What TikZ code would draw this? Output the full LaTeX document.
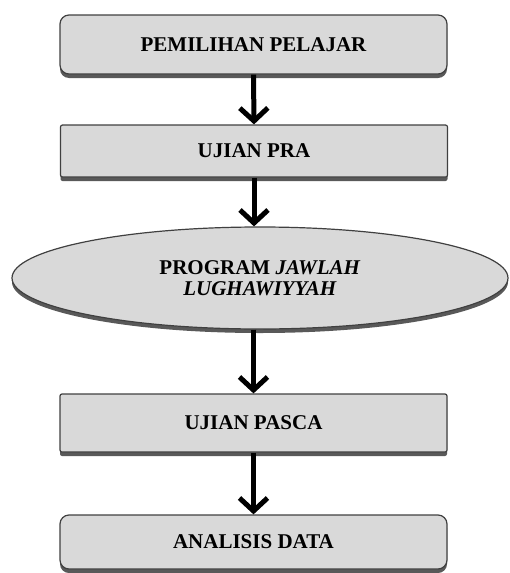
\documentclass[tikz,border=0pt]{standalone}
\usepackage{fontspec}
\setmainfont{Liberation Serif}
\usetikzlibrary{shapes.geometric,arrows.meta}
\begin{document}
\begin{tikzpicture}[x=1pt,y=-1pt,
  base/.style={draw=black!75, line width=1.2pt, fill=black!15,
    preaction={fill=black!65, transform canvas={yshift=-4pt}},
    font=\fontsize{21}{21}\selectfont\bfseries, align=center, inner sep=0pt},
  stepbox/.style={base, rectangle, minimum width=387pt},
  rbox/.style={stepbox, rounded corners=9pt},
  sbox/.style={stepbox, rounded corners=2pt},
  ellbox/.style={base, ellipse, minimum width=496pt, minimum height=102pt},
  flow/.style={line width=5pt, -{Straight Barb[length=13pt,width=28pt]}}
]
\useasboundingbox (0,0) rectangle (510,573);
\node[rbox, minimum height=59pt] (b1) at (253.5,44.5) {PEMILIHAN PELAJAR};
\node[sbox, minimum height=52pt] (b2) at (254,151) {UJIAN PRA};
\node[ellbox] (e) at (260,278) {PROGRAM \textit{JAWLAH}\\\textit{LUGHAWIYYAH}};
\node[sbox, minimum height=58pt] (b4) at (253.5,423) {UJIAN PASCA};
\node[rbox, minimum height=54pt] (b5) at (253.5,542) {ANALISIS DATA};
\draw[flow] (b1.south) -- (b2.north);
\draw[flow] (b2.south) -- (b2.south |- e.north);
\draw[flow] (b4.north |- e.south) -- (b4.north);
\draw[flow] (b4.south) -- (b5.north);
\end{tikzpicture}
\end{document}
